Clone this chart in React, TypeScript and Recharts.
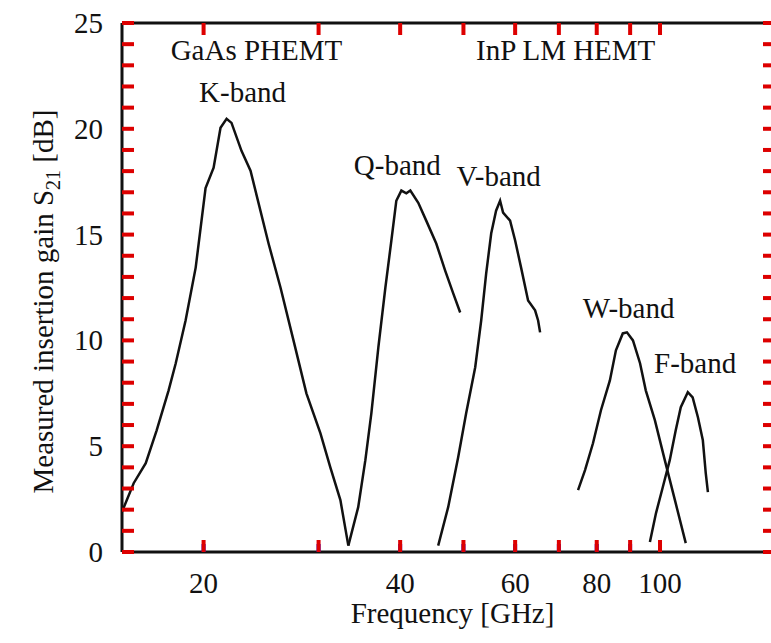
import { LineChart, Line, XAxis, YAxis, ReferenceDot, ReferenceLine, Label } from 'recharts';

// gain S21 [dB] vs frequency [GHz]
const kBand = [
  { f: 15.0, g: 1.9 }, { f: 15.63, g: 3.25 }, { f: 16.31, g: 4.2 }, { f: 16.95, g: 5.75 },
  { f: 17.68, g: 7.64 }, { f: 18.13, g: 8.92 }, { f: 18.77, g: 10.94 }, { f: 19.45, g: 13.44 },
  { f: 20.14, g: 17.2 }, { f: 20.72, g: 18.16 }, { f: 21.23, g: 20.05 }, { f: 21.69, g: 20.47 },
  { f: 22.07, g: 20.28 }, { f: 22.86, g: 18.96 }, { f: 23.6, g: 18.02 }, { f: 25.15, g: 14.58 },
  { f: 26.23, g: 12.5 }, { f: 27.46, g: 10.0 }, { f: 28.74, g: 7.5 }, { f: 30.2, g: 5.61 },
  { f: 31.27, g: 4.0 }, { f: 32.4, g: 2.45 }, { f: 33.32, g: 0.3 },
];

const qBand = [
  { f: 33.32, g: 0.3 }, { f: 34.5, g: 2.12 }, { f: 35.38, g: 4.34 }, { f: 36.14, g: 6.56 },
  { f: 37.04, g: 9.67 }, { f: 37.97, g: 12.5 }, { f: 38.78, g: 14.72 }, { f: 39.46, g: 16.6 },
  { f: 40.17, g: 17.08 }, { f: 40.88, g: 16.95 }, { f: 41.46, g: 17.08 }, { f: 42.64, g: 16.5 },
  { f: 43.85, g: 15.66 }, { f: 45.43, g: 14.58 }, { f: 46.88, g: 13.3 }, { f: 48.23, g: 12.22 },
  { f: 49.43, g: 11.32 },
];

const vBand = [
  { f: 45.74, g: 0.3 }, { f: 47.38, g: 2.12 }, { f: 49.08, g: 4.48 }, { f: 50.48, g: 6.56 },
  { f: 52.12, g: 8.73 }, { f: 53.23, g: 10.94 }, { f: 54.17, g: 13.16 }, { f: 55.14, g: 15.05 },
  { f: 56.1, g: 16.13 }, { f: 56.9, g: 16.6 }, { f: 57.5, g: 16.04 }, { f: 58.94, g: 15.66 },
  { f: 60.0, g: 14.72 }, { f: 61.27, g: 13.44 }, { f: 62.8, g: 11.89 }, { f: 64.37, g: 11.42 },
  { f: 65.06, g: 10.94 }, { f: 65.52, g: 10.38 },
];

const wBand = [
  { f: 74.9, g: 2.92 }, { f: 76.77, g: 3.87 }, { f: 78.95, g: 5.14 }, { f: 81.2, g: 6.7 },
  { f: 83.8, g: 8.11 }, { f: 85.6, g: 9.53 }, { f: 87.7, g: 10.33 }, { f: 88.99, g: 10.38 },
  { f: 90.9, g: 10.0 }, { f: 93.2, g: 8.92 }, { f: 95.1, g: 7.64 }, { f: 98.2, g: 6.23 },
  { f: 101.7, g: 4.34 }, { f: 105.4, g: 2.45 }, { f: 109.5, g: 0.42 },
];

const fBand = [
  { f: 96.5, g: 0.47 }, { f: 98.6, g: 1.84 }, { f: 101.0, g: 3.07 }, { f: 103.5, g: 4.34 },
  { f: 105.7, g: 5.75 }, { f: 107.6, g: 6.84 }, { f: 110.3, g: 7.55 }, { f: 112.2, g: 7.31 },
  { f: 114.3, g: 6.37 }, { f: 116.3, g: 5.28 }, { f: 117.5, g: 3.73 }, { f: 118.4, g: 2.83 },
];

const xTicks = [20, 30, 40, 50, 60, 70, 80, 90, 100];
const xTickLabels = [20, 40, 60, 80, 100];
const yTicks = [0, 1, 2, 3, 4, 5, 6, 7, 8, 9, 10, 11, 12, 13, 14, 15, 16, 17, 18, 19, 20, 21, 22, 23, 24, 25];
const yTickLabels = [0, 5, 10, 15, 20, 25];

const notes = [
  { text: 'GaAs PHEMT', f: 24.1, g: 23.25 },
  { text: 'K-band', f: 22.95, g: 21.27 },
  { text: 'InP LM HEMT', f: 71.7, g: 23.25 },
  { text: 'Q-band', f: 39.6, g: 17.82 },
  { text: 'V-band', f: 56.6, g: 17.3 },
  { text: 'W-band', f: 89.5, g: 11.06 },
  { text: 'F-band', f: 113.2, g: 8.46 },
];

const ink = '#111';
const tickInk = '#d00';
const serif = "'Liberation Serif', 'Times New Roman', serif";
const fontSize = 29;
const xMin = 15;
const xMax = 150;
const yMin = 0;
const yMax = 25;

const BottomLabel = (props: any) => {
  const { x, y, payload } = props;
  const v = payload.value;
  return (
    <text x={x} y={y + 41} textAnchor="middle" fill={ink} fontFamily={serif} fontSize={fontSize}>
      {xTickLabels.includes(v) ? v : ''}
    </text>
  );
};

const LeftLabel = (props: any) => {
  const { x, y, payload } = props;
  const v = payload.value;
  return (
    <text x={x - 19} y={y + 10} textAnchor="end" fill={ink} fontFamily={serif} fontSize={fontSize}>
      {yTickLabels.includes(v) ? v : ''}
    </text>
  );
};

const xLen = (v: number) => (v === 100 ? 15 : 8);
const yLen = (v: number) => (yTickLabels.includes(v) ? 14 : 8);
const bottomMark = (p: any) => <rect x={p.cx - 2} y={p.cy - 12} width={4} height={12} fill={tickInk} />;
const topMark = (p: any) => <rect x={p.cx - 2} y={p.cy} width={4} height={12} fill={tickInk} />;
const leftMark = (p: any) => <rect x={p.cx} y={p.cy - 2} width={12} height={4} fill={tickInk} />;
const rightMark = (p: any) => <rect x={p.cx - 12} y={p.cy - 2} width={12} height={4} fill={tickInk} />;

const XTitle = (props: any) => {
  const { viewBox } = props;
  return (
    <text
      x={viewBox.x + viewBox.width / 2 + 4}
      y={viewBox.y + 71}
      textAnchor="middle"
      fill={ink}
      fontFamily={serif}
      fontSize={fontSize}
    >
      Frequency [GHz]
    </text>
  );
};

const YTitle = (props: any) => {
  const { viewBox } = props;
  const cx = viewBox.x + 53;
  const cy = viewBox.y + viewBox.height / 2 + 14;
  return (
    <text
      x={cx}
      y={cy}
      transform={`rotate(-90, ${cx}, ${cy})`}
      textAnchor="middle"
      fill={ink}
      fontFamily={serif}
      fontSize={fontSize}
    >
      Measured insertion gain S
      <tspan dy={7} fontSize={20}>21</tspan>
      <tspan dy={-7}> [dB]</tspan>
    </text>
  );
};

const noteShape = (text: string) => (p: any) => (
  <text x={p.cx} y={p.cy} textAnchor="middle" fill={ink} fontFamily={serif} fontSize={fontSize}>
    {text}
  </text>
);

const axisLine = { stroke: ink, strokeWidth: 3 };
const bands = [kBand, qBand, vBand, wBand, fBand];

export default function App() {
  return (
    <div
      style={{
        position: 'absolute',
        left: 0,
        top: 0,
        width: 771,
        height: 643,
        overflow: 'hidden',
        background: '#fff',
      }}
    >
      <LineChart width={800} height={643} margin={{ top: 23, right: 25, bottom: 0, left: 0 }}>
        <XAxis
          xAxisId="b"
          type="number"
          dataKey="f"
          scale="log"
          domain={[xMin, xMax]}
          allowDataOverflow
          ticks={xTicks}
          interval={0}
          height={91}
          tickSize={-8}
          tickMargin={8}
          tickLine={{ stroke: 'blue', strokeWidth: 4 }}
          tick={<BottomLabel />}
          axisLine={axisLine}
        >
          <Label content={<XTitle />} />
        </XAxis>
        <YAxis
          yAxisId="l"
          type="number"
          domain={[yMin, yMax]}
          allowDataOverflow
          ticks={yTicks}
          interval={0}
          width={122}
          tickSize={0}
          tickMargin={0}
          tickLine={false}
          tick={<LeftLabel />}
          axisLine={axisLine}
        >
          <Label content={<YTitle />} />
        </YAxis>
        <ReferenceLine xAxisId="b" yAxisId="l" y={yMax} stroke={ink} strokeWidth={3} ifOverflow="visible" />
        {xTicks.map((v) => (
          <ReferenceDot key={`b${v}`} xAxisId="b" yAxisId="l" x={v} y={yMin} r={0} ifOverflow="visible" shape={bottomMark} />
        ))}
        {xTicks.map((v) => (
          <ReferenceDot key={`t${v}`} xAxisId="b" yAxisId="l" x={v} y={yMax} r={0} ifOverflow="visible" shape={topMark} />
        ))}
        {yTicks.map((v) => (
          <ReferenceDot key={`l${v}`} xAxisId="b" yAxisId="l" x={xMin} y={v} r={0} ifOverflow="visible" shape={leftMark} />
        ))}
        {yTicks.map((v) => (
          <ReferenceDot key={`r${v}`} xAxisId="b" yAxisId="l" x={xMax} y={v} r={0} ifOverflow="visible" shape={rightMark} />
        ))}
        {bands.map((band, i) => (
          <Line
            key={i}
            xAxisId="b"
            yAxisId="l"
            data={band}
            dataKey="g"
            type="linear"
            stroke={ink}
            strokeWidth={2.5}
            dot={false}
            activeDot={false}
            isAnimationActive={false}
          />
        ))}
        {notes.map((n) => (
          <ReferenceDot
            key={n.text}
            xAxisId="b"
            yAxisId="l"
            x={n.f}
            y={n.g}
            r={0}
            ifOverflow="visible"
            shape={noteShape(n.text)}
          />
        ))}
      </LineChart>
    </div>
  );
}
